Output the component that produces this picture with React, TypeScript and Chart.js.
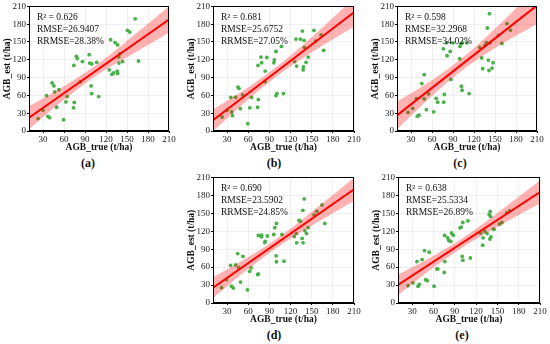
import React, { useEffect, useRef } from "react";
import { Chart, registerables } from "chart.js";

Chart.register(...registerables);

// ---------- data ----------
const xTickValues = [30, 60, 90, 120, 150, 180, 210];
const bandX = [10, 60, 110, 160, 210];

// (a)
const trueA = [23, 30, 35, 37, 39.5, 43, 45.6, 46.6, 49.4, 52.7, 59.4, 62.7, 64.6, 73.6, 74.6, 74, 77.7, 79, 83.5, 86.3, 96, 96.8, 99.6, 98.7, 99.6, 106.7, 109.5, 124.7, 126.6, 128.5, 131, 133, 136, 136.6, 136.6, 138.5, 138, 143.7, 140, 150.8, 154, 161.7, 166.4];
const estA = [21, 35, 59.5, 24.7, 22.5, 81, 76, 66, 40, 69.6, 19, 49, 58, 39, 48, 110.6, 125.8, 122, 83, 117, 128.6, 114.5, 113, 76, 63, 115.7, 58, 103, 154, 95.5, 98, 149, 101, 145, 97, 114.5, 125, 117, 130, 169.6, 166.8, 189, 118];
const upperA = [41.5, 75, 114, 161.5, 210];
const lowerA = [3.5, 53, 97, 131.5, 166];
const fitA = [22.5, 188];

// (b)
const trueB = [22.8, 30, 35.3, 37.7, 36.7, 42, 45.4, 46.8, 48.8, 52, 59.4, 62.2, 64.6, 73.3, 74.3, 73.8, 78, 79, 84, 84, 86.3, 96.4, 97, 99.3, 99.3, 100.7, 107, 110, 125.8, 127.7, 128.7, 134, 136.8, 137.8, 138.3, 139.2, 139.7, 142, 145, 153.2, 155.6, 163.3, 167];
const estB = [23.6, 35, 56.7, 25.8, 32, 57, 74, 72, 37.6, 61, 12.4, 39, 56.7, 40, 53, 110.6, 124.6, 115, 101, 83, 124, 115, 120, 134, 59.5, 63, 142.6, 63, 117, 155, 109.5, 155, 168.4, 103, 108, 152.7, 141, 115.7, 124.6, 169.6, 151.6, 162, 136];
const upperB = [36, 73.5, 117, 168.5, 224];
const lowerB = [0, 53.5, 101, 140.5, 176];
const fitB = [18, 200];

// (c)
const trueC = [25.7, 32.4, 37.7, 39, 41.6, 45.4, 48.8, 48.8, 52, 55, 62.3, 66, 68, 76.3, 76.8, 77.7, 81, 81.6, 86, 87, 90, 99.5, 100, 101.4, 102, 103, 103.3, 109.6, 113, 128, 131, 132.4, 135.6, 137.6, 139, 140.5, 141.4, 142, 143, 145.8, 147.3, 155, 159.8, 167, 172];
const estC = [31.3, 38, 54.7, 25, 26.8, 80, 95, 54, 36, 62.6, 32.4, 55, 48.6, 138.5, 48.6, 61.5, 148.6, 126.8, 134, 87, 148.6, 121.8, 142.5, 147, 75.4, 68.7, 148.6, 148.6, 63, 141, 123, 105, 144, 149, 173.6, 119.5, 102, 197.8, 148.6, 106, 115, 161, 147.5, 181, 170];
const upperC = [49.3, 85.6, 129.5, 183.3, 242.7];
const lowerC = [3.3, 59.6, 108.5, 147.3, 180.7];
const fitC = [26.3, 211.7];

// (d)
const trueD = [22.2, 29, 34.9, 36.3, 38.8, 42.2, 45, 46.6, 49, 52.4, 58.8, 62, 64, 73.3, 74.3, 74.3, 78.6, 79, 83.5, 84, 87, 96.2, 97.7, 99.6, 100, 100, 107.8, 110.7, 125.3, 128.2, 128.7, 132, 134, 136.4, 137.4, 137.8, 139.3, 140.3, 142.7, 145, 153.4, 157.3, 164.6, 168.5];
const estD = [25.7, 39, 63, 28, 25, 63.7, 82.7, 59, 35, 78, 22, 53, 58.7, 47.5, 113, 48.6, 110.6, 113.4, 101, 103, 112, 114.5, 126, 78.8, 133, 69, 114.5, 70, 111, 116, 100.6, 138, 137, 108, 155, 100.6, 174, 120.7, 116, 126, 147.5, 153.6, 164, 133];
const upperD = [42.7, 76.3, 115.4, 161.5, 209];
const lowerD = [8.7, 57.3, 100.4, 136.5, 171];
const fitD = [25.7, 190.1];

// (e)
const trueE = [24.2, 31, 36.7, 38.2, 40, 44, 47.3, 48.8, 51.2, 54, 60.8, 64.7, 66, 75.2, 76, 75.7, 80, 81.5, 84.4, 85.4, 87.8, 97.5, 99, 100.4, 101.3, 101.3, 108.5, 111.9, 126.4, 129.3, 129.8, 132.2, 135.5, 138.4, 139.4, 139.9, 140.4, 140.9, 144.3, 145.3, 153, 156.3, 163, 167];
const estE = [29, 33.5, 69.3, 28, 31, 72.6, 87.7, 39, 37.4, 85, 28, 57, 57, 51, 69.3, 113, 109, 104.5, 103, 117, 113.4, 125.7, 127, 78, 71.5, 134.6, 137.4, 75.4, 116.8, 96.6, 109, 120, 116, 148, 107, 153, 144.7, 110.6, 123.5, 123, 131.8, 134.6, 150.8, 154];
const upperE = [47.2, 78.6, 115.4, 159.3, 204.6];
const lowerE = [13.2, 59.6, 100.4, 134.3, 166.6];
const fitE = [30.2, 185.6];

const statsA = ["R\u00b2 = 0.626", "RMSE=26.9407", "RRMSE=28.38%"];
const statsB = ["R\u00b2 = 0.681", "RMSE=25.6752", "RRMSE=27.05%"];
const statsC = ["R\u00b2 = 0.598", "RMSE=32.2968", "RRMSE=34.02%"];
const statsD = ["R\u00b2 = 0.690", "RMSE=23.5902", "RRMSE=24.85%"];
const statsE = ["R\u00b2 = 0.638", "RMSE=25.5334", "RRMSE=26.89%"];

// ---------- layout ----------
type Panel = {
  label: string;
  xs: number[];
  ys: number[];
  upper: number[];
  lower: number[];
  fit: number[];
  stats: string[];
  area: [number, number, number, number]; // left, top, right, bottom
  labelPos: [number, number];
};

const panels: Panel[] = [
  { label: "(a)", xs: trueA, ys: estA, upper: upperA, lower: lowerA, fit: fitA, stats: statsA, area: [29, 6, 169, 131], labelPos: [88, 163] },
  { label: "(b)", xs: trueB, ys: estB, upper: upperB, lower: lowerB, fit: fitB, stats: statsB, area: [213, 6, 354, 131], labelPos: [274, 163] },
  { label: "(c)", xs: trueC, ys: estC, upper: upperC, lower: lowerC, fit: fitC, stats: statsC, area: [397, 6, 537, 131], labelPos: [460, 163] },
  { label: "(d)", xs: trueD, ys: estD, upper: upperD, lower: lowerD, fit: fitD, stats: statsD, area: [213, 177, 354, 303], labelPos: [274, 335] },
  { label: "(e)", xs: trueE, ys: estE, upper: upperE, lower: lowerE, fit: fitE, stats: statsE, area: [398, 177, 540, 303], labelPos: [462, 335] },
];

const Y_W = 29;
const X_H = 24;
const PAD_T = 6;
const PAD_R = 12;
const FONT = "'Liberation Serif', 'Times New Roman', serif";

function PanelChart({ p }: { p: Panel }) {
  const ref = useRef<HTMLCanvasElement | null>(null);
  const [L, T, R, B] = p.area;
  const cl = L - Y_W;
  const ct = T - PAD_T;
  const cw = R - L + Y_W + PAD_R;
  const ch = B - T + PAD_T + X_H;

  useEffect(() => {
    if (!ref.current) return;
    const framePlugin = {
      id: "frameAndStats",
      afterDatasetsDraw(chart: any) {
        const { ctx, chartArea } = chart;
        ctx.save();
        ctx.strokeStyle = "#000";
        ctx.lineWidth = 1;
        ctx.strokeRect(
          Math.round(chartArea.left) + 0.5,
          Math.round(chartArea.top) + 0.5,
          Math.round(chartArea.right - chartArea.left) - 1,
          Math.round(chartArea.bottom - chartArea.top) - 1
        );
        ctx.fillStyle = "#111";
        ctx.font = `9.5px ${FONT}`;
        ctx.textBaseline = "middle";
        ctx.textAlign = "left";
        p.stats.forEach((s, i) => {
          ctx.fillText(s, chartArea.left + 8, chartArea.top + 11.5 + i * 12);
        });
        ctx.restore();
      },
    };

    const chart = new Chart(ref.current, {
      type: "scatter",
      data: {
        datasets: [
          {
            type: "line",
            data: [
              { x: bandX[0], y: p.fit[0] },
              { x: bandX[bandX.length - 1], y: p.fit[1] },
            ],
            borderColor: "#ff0000",
            borderWidth: 2,
            pointRadius: 0,
            fill: false,
            order: 1,
          } as any,
          {
            type: "line",
            data: bandX.map((x, i) => ({ x, y: p.upper[i] })),
            borderColor: "rgba(255,0,0,0.15)",
            borderWidth: 0.5,
            backgroundColor: "rgba(255,0,0,0.3)",
            pointRadius: 0,
            cubicInterpolationMode: "monotone",
            fill: "+1",
            order: 2,
          } as any,
          {
            type: "line",
            data: bandX.map((x, i) => ({ x, y: p.lower[i] })),
            borderColor: "rgba(255,0,0,0.15)",
            borderWidth: 0.5,
            backgroundColor: "rgba(255,0,0,0.3)",
            pointRadius: 0,
            cubicInterpolationMode: "monotone",
            fill: false,
            order: 3,
          } as any,
          {
            data: p.xs.map((x, i) => ({ x, y: p.ys[i] })),
            backgroundColor: "rgb(72,178,72)",
            borderWidth: 0,
            pointRadius: 1.9,
            order: 4,
          } as any,
        ],
      },
      options: {
        animation: false,
        responsive: false,
        devicePixelRatio: 1,
        layout: { padding: { left: 0, top: PAD_T, right: PAD_R, bottom: 0 } },
        plugins: { legend: { display: false }, tooltip: { enabled: false } },
        scales: {
          x: {
            type: "linear",
            min: 10,
            max: 210,
            afterBuildTicks: (s: any) => {
              s.ticks = xTickValues.map((v) => ({ value: v }));
            },
            afterFit: (s: any) => {
              s.height = X_H;
            },
            grid: { drawOnChartArea: true, color: "rgba(0,0,0,0.06)", tickColor: "#000", tickLength: 2, drawTicks: true },
            border: { display: true, color: "#000", width: 1 },
            ticks: { font: { family: FONT, size: 9 }, color: "#222", padding: 1, maxRotation: 0, autoSkip: false },
            title: {
              display: true,
              text: "AGB_true (t/ha)",
              font: { family: FONT, size: 9.5, weight: "bold" },
              color: "#111",
              padding: { top: 0, bottom: 2 },
            },
          },
          y: {
            type: "linear",
            min: 0,
            max: 210,
            afterFit: (s: any) => {
              s.width = Y_W;
            },
            grid: { drawOnChartArea: true, color: "rgba(0,0,0,0.06)", tickColor: "#000", tickLength: 2, drawTicks: true },
            border: { display: true, color: "#000", width: 1 },
            ticks: { stepSize: 30, font: { family: FONT, size: 9 }, color: "#222", padding: 1, autoSkip: false },
            title: {
              display: true,
              text: "AGB_est (t/ha)",
              font: { family: FONT, size: 9.5, weight: "bold" },
              color: "#111",
              padding: { top: 2, bottom: 0 },
            },
          },
        },
      } as any,
      plugins: [framePlugin],
    });
    return () => chart.destroy();
  }, []);

  return (
    <>
      <canvas
        ref={ref}
        width={cw}
        height={ch}
        style={{ position: "absolute", left: cl, top: ct, width: cw, height: ch }}
      />
      <div
        style={{
          position: "absolute",
          left: p.labelPos[0] - 20,
          top: p.labelPos[1] - 8,
          width: 40,
          textAlign: "center",
          font: `bold 12px ${FONT}`,
          lineHeight: "16px",
          color: "#111",
        }}
      >
        {p.label}
      </div>
    </>
  );
}

export default function App() {
  return (
    <div style={{ position: "absolute", left: 0, top: 0, width: 550, height: 344, background: "#fff", overflow: "hidden" }}>
      {panels.map((p) => (
        <PanelChart key={p.label} p={p} />
      ))}
    </div>
  );
}
